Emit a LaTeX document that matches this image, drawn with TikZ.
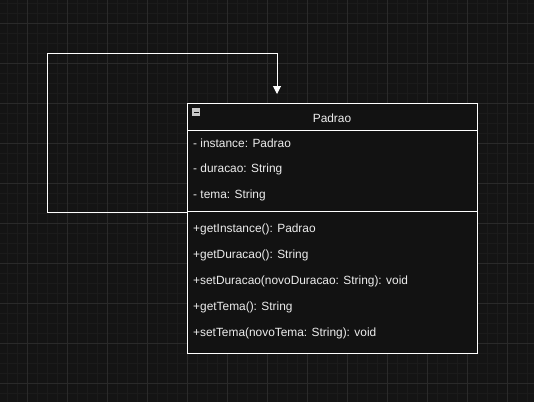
\documentclass[tikz,border=0pt]{standalone}
\usepackage{fontspec}
\setmainfont{Liberation Sans}
\usetikzlibrary{arrows.meta}
\definecolor{canvas}{HTML}{141414}
\definecolor{gridminor}{HTML}{1B1B1B}
\definecolor{gridmajor}{HTML}{2A2A2A}
\definecolor{boxfill}{HTML}{121212}
\definecolor{textgray}{HTML}{EDEDED}
\definecolor{iconfill}{HTML}{C8C8C8}
\tikzset{
  member/.style={anchor=west, inner sep=0pt, text=textgray, font=\fontsize{11.9}{13}\selectfont},
  title/.style={inner sep=0pt, text=textgray, font=\fontsize{11.9}{13}\selectfont},
  umlline/.style={draw=white, line width=1pt},
  link/.style={draw=white, line width=1pt, -{Triangle[width=8pt,length=8pt]}},
}
\begin{document}
\begin{tikzpicture}[x=1pt,y=-1pt]
  % canvas and grid
  \fill[canvas] (0,0) rectangle (534,402);
  \useasboundingbox (0,0) rectangle (534,402);
  \foreach \x in {7,17,...,534} \draw[gridminor, line width=0.6pt] (\x,0) -- (\x,402);
  \foreach \y in {3,13,...,402} \draw[gridminor, line width=0.6pt] (0,\y) -- (534,\y);
  \foreach \x in {27,67,...,534} \draw[gridmajor, line width=0.8pt] (\x,0) -- (\x,402);
  \foreach \y in {23,63,...,402} \draw[gridmajor, line width=0.8pt] (0,\y) -- (534,\y);

  % class box
  \fill[boxfill] (187,103) rectangle (477,353);
  \draw[umlline] (187,103) rectangle (477,353);
  \draw[umlline] (187,130) -- (477,130);
  \draw[umlline] (187,211.5) -- (477,211.5);

  % collapse icon
  \fill[iconfill] (192,108) rectangle (200,116);
  \fill[boxfill] (193.5,111.5) rectangle (198.5,112.8);

  \node[title] (cls) at (332,118) {Padrao};

  \node[member] (a1) at (193,143.5) {- instance: Padrao};
  \node[member] (a2) at (193,169.5) {- duracao: String};
  \node[member] (a3) at (193,195.5) {- tema: String};

  \node[member] (m1) at (193,229.5) {+getInstance(): Padrao};
  \node[member] (m2) at (193,255.5) {+getDuracao(): String};
  \node[member] (m3) at (193,281.5) {+setDuracao(novoDuracao: String): void};
  \node[member] (m4) at (193,307.5) {+getTema(): String};
  \node[member] (m5) at (193,333.5) {+setTema(novoTema: String): void};

  % self-association of the singleton
  \coordinate (src) at (187,212);
  \coordinate (dst) at (277,94);
  \draw[link] (src) -- (47,212) -- (47,53) -- (277,53) -- (dst);
\end{tikzpicture}
\end{document}
